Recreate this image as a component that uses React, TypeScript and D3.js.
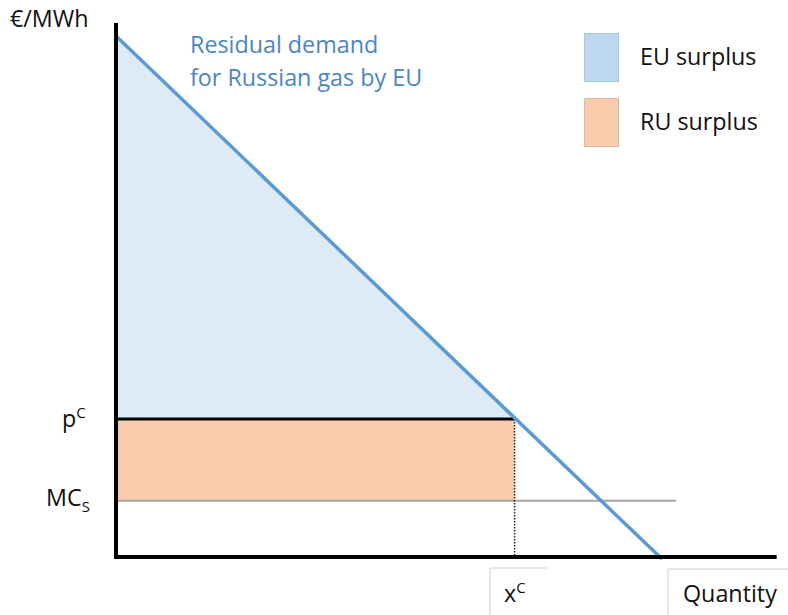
import React from "react";
import * as d3 from "d3";

const width = 788;
const height = 615;

// price / quantity model (arbitrary units)
const demandPoints: [number, number][] = [
  [0, 100],
  [100, -0.4],
];
const axisTopPrice = 102.5;
const axisEndQty = 121;
const priceC = 26.5;
const qtyC = 73;
const mcS = 10.8;
const mcEndQty = 102.6;

const legendItems = ["EU surplus", "RU surplus"];
const legendFills = ["#bdd7ee", "#f8cbad"];
const legendStrokes = ["#a9c6e3", "#e0b8a0"];

const x = d3.scaleLinear().domain([0, 100]).range([116, 662]);
const y = d3.scaleLinear().domain([0, 100]).range([557, 36]);

const line = d3
  .line<[number, number]>()
  .x((d) => x(d[0]))
  .y((d) => y(d[1]));

const font = "'Open Sans', sans-serif";
const fs = 23.3;

const App = () => {
  const euTri: [number, number][] = [
    [0, 100],
    [0, priceC],
    [qtyC, priceC],
  ];
  return (
    <div style={{ position: "absolute", left: 0, top: 0 }}>
      <svg width={width} height={height} style={{ display: "block" }}>
        <rect width={width} height={height} fill="white" />
        {/* surpluses */}
        <path d={line(euTri) + "Z"} fill="#deebf7" />
        <rect
          x={x(0)}
          y={y(priceC)}
          width={x(qtyC) - x(0)}
          height={y(mcS) - y(priceC)}
          fill="#f8cbad"
        />
        {/* MC line */}
        <line
          x1={x(0)}
          x2={x(mcEndQty)}
          y1={y(mcS)}
          y2={y(mcS)}
          stroke="#a6a6a6"
          strokeWidth={2}
        />
        {/* dotted drop line */}
        <line
          x1={x(qtyC)}
          x2={x(qtyC)}
          y1={y(priceC)}
          y2={y(0)}
          stroke="#222"
          strokeWidth={1.5}
          strokeDasharray="1.5,1.5"
        />
        {/* price line */}
        <line
          x1={x(0)}
          x2={x(qtyC)}
          y1={y(priceC)}
          y2={y(priceC)}
          stroke="#000"
          strokeWidth={3}
        />
        {/* demand */}
        <path d={line(demandPoints) ?? ""} stroke="#5b9bd5" strokeWidth={3.5} fill="none" />
        {/* axes */}
        <line x1={x(0)} x2={x(0)} y1={y(axisTopPrice)} y2={y(0) + 2} stroke="#000" strokeWidth={4} />
        <line x1={x(0) - 2} x2={x(axisEndQty)} y1={y(0)} y2={y(0)} stroke="#000" strokeWidth={4} />

        {/* text boxes under x axis */}
        <path d="M490,615 V568 H547" fill="none" stroke="#d0d0d0" strokeWidth={1} />
        <path d="M668,615 V569 H788" fill="none" stroke="#d0d0d0" strokeWidth={1} />

        <g fontFamily={font} fill="#111" fontSize={fs}>
          <text x={10} y={27}>€/MWh</text>
          <text x={62} y={427}>
            p<tspan dy={-9} fontSize={15}>C</tspan>
          </text>
          <text x={46} y={506}>
            MC<tspan dy={6} fontSize={15}>S</tspan>
          </text>
          <text x={504} y={602}>
            x<tspan dy={-9} fontSize={15}>C</tspan>
          </text>
          <text x={683} y={602}>Quantity</text>
        </g>

        <g fontFamily={font} fill="#4a86c5" fontSize={fs}>
          <text x={190} y={53}>Residual demand</text>
          <text x={190} y={86}>for Russian gas by EU</text>
        </g>

        {legendItems.map((name, i) => (
          <g key={name} transform={`translate(584, ${33 + i * 65})`}>
            <rect
              x={0.5}
              y={0.5}
              width={34}
              height={48}
              fill={legendFills[i]}
              stroke={legendStrokes[i]}
            />
            <text x={56} y={32} fontFamily={font} fontSize={fs} fill="#111">
              {name}
            </text>
          </g>
        ))}
      </svg>
    </div>
  );
};

export default App;
